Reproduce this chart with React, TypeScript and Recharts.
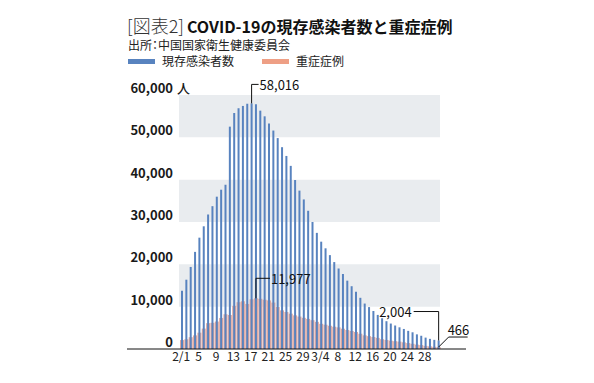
import React from 'react';
import { ComposedChart, Bar, XAxis, YAxis, ReferenceArea } from 'recharts';

const dates = [
  '2/1', '2/2', '2/3', '2/4', '2/5', '2/6', '2/7', '2/8', '2/9', '2/10',
  '2/11', '2/12', '2/13', '2/14', '2/15', '2/16', '2/17', '2/18', '2/19', '2/20',
  '2/21', '2/22', '2/23', '2/24', '2/25', '2/26', '2/27', '2/28', '2/29',
  '3/1', '3/2', '3/3', '3/4', '3/5', '3/6', '3/7', '3/8', '3/9', '3/10',
  '3/11', '3/12', '3/13', '3/14', '3/15', '3/16', '3/17', '3/18', '3/19', '3/20',
  '3/21', '3/22', '3/23', '3/24', '3/25', '3/26', '3/27', '3/28', '3/29', '3/30', '3/31'
];

// 現存感染者数
const activeCases = [
  13748, 16369, 19381, 22942, 26302, 28985, 31774, 33738, 35982, 37626,
  38800, 52526, 55748, 56873, 57416, 57934, 58016, 57805, 56303, 54965,
  53284, 51606, 49824, 47672, 45604, 43258, 39919, 37414, 35329,
  32652, 30004, 27433, 25352, 23784, 22177, 20533, 19016, 17721, 16145,
  14831, 13526, 12094, 10734, 9898, 8976, 8056, 7263, 6569, 6013,
  5549, 5120, 4735, 4287, 3947, 3460, 3128, 2691, 2396, 2161, 2004
];

// 重症症例
const severeCases = [
  2110, 2296, 2788, 3219, 3859, 4821, 6101, 6188, 6484, 7333,
  8204, 8030, 10204, 11053, 11272, 10644, 11741, 11977, 11864, 11633,
  11477, 10968, 9915, 9126, 8752, 8346, 7952, 7664, 7365,
  7110, 6806, 6416, 5952, 5737, 5489, 5264, 5111, 4794, 4492,
  4257, 4020, 3610, 3226, 3032, 2830, 2622, 2314, 2136, 1963,
  1845, 1749, 1573, 1399, 1235, 1034, 921, 742, 633, 528, 466
];

const xTicks = ['2/1', '2/5', '2/9', '2/13', '2/17', '2/21', '2/25', '2/29', '3/4', '3/8', '3/12', '3/16', '3/20', '3/24', '3/28'];
const xTickLabels = ['2/1', '5', '9', '13', '17', '21', '25', '29', '3/4', '8', '12', '16', '20', '24', '28'];
const yTicks = [0, 10000, 20000, 30000, 40000, 50000, 60000];
const bands: [number, number][] = [[10000, 20000], [30000, 40000], [50000, 60000]];

const data = dates.map((d, i) => ({ date: d, active: activeCases[i], severe: severeCases[i] }));

const FONT = '"Noto Sans CJK JP", "Noto Sans", sans-serif';
const BLUE = '#5883bf';
const PINK = '#dea8a0';

const YTick = (props: any) => {
  const { y, payload } = props;
  const v = payload.value as number;
  return (
    <text x={173} y={y - 2} textAnchor="end" fontSize={13} fontWeight={700} fill="#1a1a1a" fontFamily={FONT}>
      {v.toLocaleString('en-US')}
      {v === 60000 && <tspan x={177} textAnchor="start" fontWeight={500}>人</tspan>}
    </text>
  );
};

const XTick = (props: any) => {
  const { x, y, payload } = props;
  const idx = xTicks.indexOf(payload.value);
  return (
    <text x={x} y={y + 3.5} textAnchor="middle" fontSize={12} fill="#222" fontFamily={FONT}>
      {xTickLabels[idx]}
    </text>
  );
};

const ActiveLabel = (props: any) => {
  const { x, y, width, index } = props;
  const cx = x + width / 2;
  if (index === 16) {
    return (
      <g>
        <polyline points={`${cx},${y} ${cx},${y - 19} ${cx + 7},${y - 19}`} fill="none" stroke="#111" strokeWidth={1} />
        <text x={cx + 8} y={y - 19} dominantBaseline="central" fontSize={13} fill="#111" fontFamily={FONT}>58,016</text>
      </g>
    );
  }
  if (index === activeCases.length - 1) {
    return (
      <g>
        <polyline points={`${cx},${y} ${cx},${y - 29} ${cx - 25},${y - 29}`} fill="none" stroke="#111" strokeWidth={1} />
        <text x={cx - 27} y={y - 29} textAnchor="end" dominantBaseline="central" fontSize={13} fill="#111" fontFamily={FONT}>2,004</text>
      </g>
    );
  }
  return null;
};

const SevereLabel = (props: any) => {
  const { x, y, width, index } = props;
  const cx = x + width / 2;
  if (index === 17) {
    return (
      <g>
        <polyline points={`${cx},${y} ${cx},${y - 20} ${cx + 14},${y - 20}`} fill="none" stroke="#111" strokeWidth={1} />
        <text x={cx + 15} y={y - 20} dominantBaseline="central" fontSize={13} fill="#111" fontFamily={FONT}>11,977</text>
      </g>
    );
  }
  if (index === severeCases.length - 1) {
    return (
      <g>
        <polyline points={`${cx},${y} ${cx + 10},${y - 10} ${cx + 29},${y - 10}`} fill="none" stroke="#111" strokeWidth={1} />
        <text x={cx + 9} y={y - 12} fontSize={13} fill="#111" fontFamily={FONT}>466</text>
      </g>
    );
  }
  return null;
};

export default function App() {
  return (
    <div style={{ position: 'absolute', left: 0, top: 0, width: 594, height: 383, background: '#fff', fontFamily: FONT, color: '#111' }}>
      <div style={{ position: 'absolute', left: 127, top: 14, fontSize: 16, lineHeight: '22px', whiteSpace: 'nowrap' }}>
        <span style={{ fontWeight: 300, color: '#333', fontSize: 18, marginRight: 3 }}>[図表2]</span>
        <span style={{ fontWeight: 700, fontSize: 16 }}>COVID-19の現存感染者数と重症症例</span>
      </div>
      <div style={{ position: 'absolute', left: 128, top: 37, fontSize: 12, lineHeight: '15px', color: '#222', whiteSpace: 'nowrap', fontFeatureSettings: '"palt"' }}>
        出所：中国国家衛生健康委員会
      </div>
      <div style={{ position: 'absolute', left: 128, top: 53, fontSize: 12, lineHeight: '16px', color: '#222', whiteSpace: 'nowrap', display: 'flex', alignItems: 'center' }}>
        <span style={{ display: 'inline-block', width: 27, height: 5, background: BLUE, marginRight: 7 }} />
        <span>現存感染者数</span>
        <span style={{ display: 'inline-block', width: 27, height: 5, background: '#ee9f85', marginLeft: 28, marginRight: 7 }} />
        <span>重症症例</span>
      </div>
      <div style={{ position: 'absolute', left: 0, top: 0 }}>
        <ComposedChart
          width={594}
          height={383}
          data={data}
          margin={{ top: 95, right: 128, left: 0, bottom: 0 }}
          barGap={-3}
        >
          {bands.map(([a, b]) => (
            <ReferenceArea key={a} y1={a} y2={b} fill="#e9ecef" fillOpacity={1} stroke="none" ifOverflow="visible" />
          ))}
          <XAxis
            dataKey="date"
            ticks={xTicks}
            interval={0}
            tick={<XTick />}
            tickLine={false}
            axisLine={{ stroke: '#111', strokeWidth: 1 }}
            height={34}
            padding={{ left: 52, right: 26 }}
          />
          <YAxis
            domain={[0, 60000]}
            ticks={yTicks}
            width={127}
            axisLine={false}
            tickLine={false}
            tick={<YTick />}
          />
          <Bar dataKey="severe" fill={PINK} barSize={4} isAnimationActive={false} label={<SevereLabel />} />
          <Bar dataKey="active" fill={BLUE} barSize={2} isAnimationActive={false} label={<ActiveLabel />} />
        </ComposedChart>
      </div>
    </div>
  );
}
